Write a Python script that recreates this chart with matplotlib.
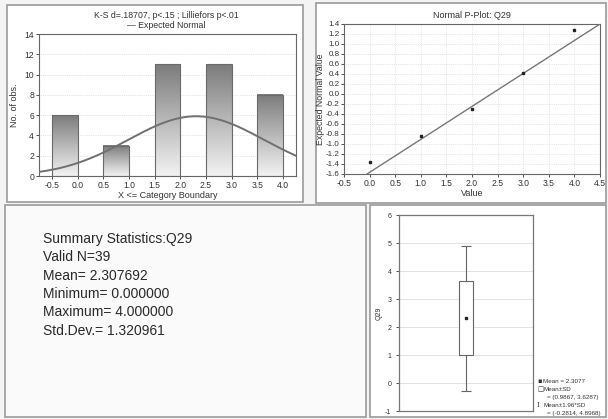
"""
STATISTICA-style descriptive summary for Q29: histogram, normal P-plot,
summary text and mean/SD box plot.
"""
import matplotlib
matplotlib.use("Agg")
import matplotlib.pyplot as plt
import numpy as np
from matplotlib.colors import LinearSegmentedColormap
from matplotlib.patches import Rectangle

plt.rcParams["font.family"] = ["Liberation Sans", "DejaVu Sans"]
plt.rcParams["axes.unicode_minus"] = False

# histogram data
bin_left = [-0.5, 0.5, 1.5, 2.5, 3.5]
bin_right = [0.0, 1.0, 2.0, 3.0, 4.0]
counts = [6, 3, 11, 11, 8]
hist_ticks = [-0.5, 0.0, 0.5, 1.0, 1.5, 2.0, 2.5, 3.0, 3.5, 4.0]

# summary stats
n_valid = 39
mean = 2.307692
minimum = 0.0
maximum = 4.0
sd = 1.320961

# normal P-plot data
pp_value = [0, 1, 2, 3, 4]
pp_expected = [-1.37, -0.85, -0.31, 0.41, 1.27]
pp_line_x = [-0.05, 4.5]
pp_line_y = [-1.6, 1.4]
pp_yticks = [-1.6, -1.4, -1.2, -1.0, -0.8, -0.6, -0.4, -0.2, 0.0,
             0.2, 0.4, 0.6, 0.8, 1.0, 1.2, 1.4]

# box plot (mean +- SD, mean +- 1.96 SD)
box_lo, box_hi = 0.9867, 3.6287
whisk_lo, whisk_hi = -0.2814, 4.8968

W, H = 608, 419
fig = plt.figure(figsize=(W / 100, H / 100), dpi=100)
fig.patch.set_facecolor("#f4f4f4")


def px_axes(x0, y0, x1, y1):
    a = fig.add_axes([x0 / W, 1 - y1 / H, (x1 - x0) / W, (y1 - y0) / H])
    a.set_zorder(5)
    return a


def frame(x0, y0, x1, y1, fc="white"):
    fig.patches.append(Rectangle((x0 / W, 1 - y1 / H), (x1 - x0) / W, (y1 - y0) / H,
                                 transform=fig.transFigure, facecolor=fc,
                                 edgecolor="#9a9a9a", lw=1.2, zorder=-10))


frame(7, 5, 303, 202)
frame(316, 3, 606, 203)
frame(5, 205, 366, 417, fc="#fafafa")
frame(370, 205, 606, 417)

txt = "#333333"
tick_kw = dict(labelsize=6.2, colors=txt, length=2, width=0.6, pad=1.5)

# ---- histogram ----
ax = px_axes(39, 34, 296, 176)
bar_cmap = LinearSegmentedColormap.from_list("bar", ["#7c7c7c", "#b8b8b8", "#f2f2f2"])
grad = np.linspace(0, 1, 100).reshape(-1, 1)
for l, r, c in zip(bin_left, bin_right, counts):
    ax.imshow(grad, cmap=bar_cmap, vmin=0, vmax=1, aspect="auto",
              extent=(l, r, 0, c), origin="upper", zorder=2)
    ax.add_patch(Rectangle((l, 0), r - l, c, fill=False, edgecolor="#6a6a6a",
                           lw=0.8, zorder=3))
xs = np.linspace(-0.75, 4.25, 200)
curve = n_valid * 0.5 / (sd * np.sqrt(2 * np.pi)) * np.exp(-0.5 * ((xs - mean) / sd) ** 2)
ax.plot(xs, curve, color="#707070", lw=1.4, zorder=4)
ax.set_xlim(-0.75, 4.25)
ax.set_ylim(0, 14)
ax.set_xticks(hist_ticks)
ax.set_xticklabels([f"{t:.1f}" for t in hist_ticks])
ax.set_yticks(range(0, 15, 2))
ax.tick_params(**tick_kw)
ax.grid(axis="y", color="#cccccc", lw=0.5, ls=":")
ax.set_axisbelow(True)
for s in ax.spines.values():
    s.set_color("#666666")
    s.set_linewidth(0.8)
ax.set_xlabel("X <= Category Boundary", fontsize=6.5, color=txt, labelpad=1)
ax.set_ylabel("No. of obs.", fontsize=6.5, color=txt, labelpad=4)
fig.text(166 / W, 1 - 15 / H, "K-S d=.18707, p<.15 ; Lilliefors p<.01",
         ha="center", va="center", fontsize=6.3, color=txt)
fig.text(166 / W, 1 - 25 / H, "\u2014 Expected Normal", ha="center",
         va="center", fontsize=6.3, color=txt)

# ---- normal P-plot ----
ax2 = px_axes(344, 24, 600, 174)
ax2.plot(pp_line_x, pp_line_y, color="#777777", lw=1.0, zorder=3)
ax2.plot(pp_value, pp_expected, "s", color="#222222", ms=2, zorder=4)
ax2.set_xlim(-0.5, 4.5)
ax2.set_ylim(-1.6, 1.4)
pp_xt = np.arange(-0.5, 4.51, 0.5)
ax2.set_xticks(pp_xt)
ax2.set_xticklabels([f"{t:.1f}" for t in pp_xt])
ax2.set_yticks(pp_yticks)
ax2.set_yticklabels([f"{t:.1f}" for t in pp_yticks])
ax2.tick_params(**tick_kw)
ax2.tick_params(axis="y", labelsize=5.8, pad=1)
ax2.grid(color="#d0d0d0", lw=0.5, ls=":")
for s in ax2.spines.values():
    s.set_color("#666666")
    s.set_linewidth(0.8)
ax2.set_title("Normal P-Plot: Q29", fontsize=6.5, color=txt, pad=4)
ax2.set_xlabel("Value", fontsize=6.5, color=txt, labelpad=1)
ax2.set_ylabel("Expected Normal Value", fontsize=6.3, color=txt, labelpad=0.5)

# ---- summary text ----
lines = ["Summary Statistics:Q29",
         f"Valid N={n_valid}",
         f"Mean= {mean:.6f}",
         f"Minimum= {minimum:.6f}",
         f"Maximum= {maximum:.6f}",
         f"Std.Dev.= {sd:.6f}"]
for i, s in enumerate(lines):
    fig.text(43 / W, 1 - (239 + i * 18.3) / H, s, ha="left", va="center",
             fontsize=10, color="#2a2a2a")

# ---- box plot ----
ax3 = px_axes(399, 215, 533, 411)
ax3.vlines(0, whisk_lo, box_lo, color="#666666", lw=0.8)
ax3.vlines(0, box_hi, whisk_hi, color="#666666", lw=0.8)
ax3.hlines([whisk_lo, whisk_hi], -0.04, 0.04, color="#666666", lw=0.8)
ax3.bar(0, box_hi - box_lo, bottom=box_lo, width=0.1, facecolor="white",
        edgecolor="#666666", lw=0.8, zorder=3)
ax3.plot(0, mean, "s", color="#222222", ms=2, zorder=4)
ax3.set_xlim(-0.5, 0.5)
ax3.set_ylim(-1, 6)
ax3.set_xticks([])
ax3.set_yticks(range(-1, 7))
ax3.tick_params(labelsize=5, colors=txt, length=2, width=0.6)
ax3.grid(axis="y", color="#dddddd", lw=0.6)
ax3.set_axisbelow(True)
for s in ax3.spines.values():
    s.set_color("#777777")
    s.set_linewidth(0.9)
ax3.set_ylabel("Q29", fontsize=5, color=txt, labelpad=2)

leg = [(381, "\u25aa", f"Mean = {mean:.4f}"),
       (389, "\u25a1", "Mean\u00b1SD"),
       (397, "", "= (0.9867, 3.6287)"),
       (405, "I", "Mean\u00b11.96*SD"),
       (413, "", "= (-0.2814, 4.8968)")]
for y, sym, s in leg:
    if sym:
        fig.text(537 / W, 1 - y / H, sym, ha="left", va="center", fontsize=4.8,
                 color=txt, family=["DejaVu Serif"] if sym == "I" else ["DejaVu Sans"])
    fig.text((543 if sym else 547) / W, 1 - y / H, s, ha="left", va="center",
             fontsize=4.5, color=txt)

fig.savefig("out.png", dpi=100, facecolor=fig.get_facecolor())
